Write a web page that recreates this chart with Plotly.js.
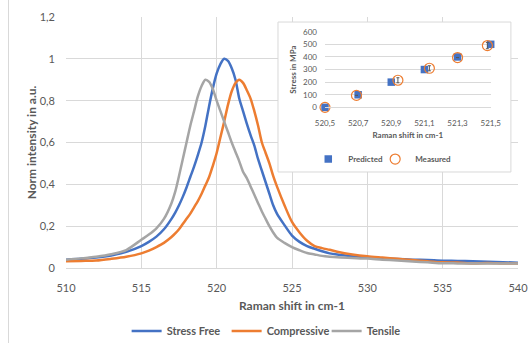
<!DOCTYPE html>
<html>
<head>
<meta charset="utf-8">
<script src="https://cdn.plot.ly/plotly-3.0.1.min.js"></script>
<style>
  html, body { margin: 0; padding: 0; background: #fff; }
  #wrap { position: relative; width: 530px; height: 343px; }
  #chart { width: 530px; height: 343px; }
  #border { position: absolute; left: 8px; top: 0; width: 0; height: 343px; border-left: 1px solid #D9D9D9; pointer-events: none; }
</style>
</head>
<body>
<div id="wrap"><div id="chart"></div><div id="border"></div></div>
<script>
// ---- Main chart data (Raman spectra) ----
const ramanShift = [510,511,512,513,514,515,515.5,516,516.5,517,517.25,517.5,517.75,518,518.25,518.5,518.75,519,519.25,519.5,519.75,520,520.25,520.5,520.75,521,521.25,521.5,521.75,522,522.25,522.5,522.75,523,523.25,523.5,523.75,524,524.5,525,525.5,526,526.5,527,527.5,528,529,530,531,532,533,534,535,536,537,538,539,540];

const stressFree = [0.040,0.044,0.050,0.060,0.077,0.105,0.125,0.150,0.185,0.235,0.265,0.300,0.340,0.385,0.435,0.485,0.540,0.600,0.680,0.775,0.860,0.930,0.975,1.000,0.990,0.955,0.900,0.810,0.750,0.690,0.635,0.585,0.520,0.465,0.410,0.355,0.300,0.260,0.205,0.155,0.125,0.105,0.092,0.080,0.070,0.064,0.056,0.050,0.046,0.043,0.040,0.038,0.035,0.034,0.032,0.030,0.028,0.025];

const compressive = [0.032,0.034,0.036,0.044,0.054,0.070,0.083,0.100,0.120,0.148,0.165,0.185,0.210,0.235,0.260,0.290,0.320,0.355,0.395,0.435,0.490,0.550,0.625,0.700,0.780,0.845,0.885,0.900,0.885,0.850,0.810,0.750,0.680,0.600,0.550,0.500,0.440,0.390,0.300,0.220,0.170,0.130,0.105,0.095,0.087,0.078,0.065,0.056,0.050,0.044,0.038,0.032,0.027,0.026,0.022,0.024,0.022,0.022];

const tensile = [0.040,0.046,0.054,0.066,0.086,0.135,0.160,0.190,0.235,0.310,0.365,0.440,0.520,0.600,0.680,0.750,0.820,0.870,0.900,0.890,0.855,0.800,0.750,0.700,0.650,0.600,0.555,0.510,0.460,0.430,0.390,0.350,0.310,0.270,0.235,0.200,0.170,0.145,0.120,0.100,0.085,0.072,0.065,0.058,0.054,0.051,0.048,0.045,0.040,0.036,0.031,0.027,0.023,0.022,0.021,0.022,0.022,0.022];

const seriesNames = ["Stress Free", "Compressive", "Tensile"];

// ---- Inset data (stress vs Raman shift) ----
const predShift = [520.5, 520.7, 520.9, 521.1, 521.3, 521.5];
const predStress = [0, 100, 200, 300, 400, 500];
const measShift = [520.5, 520.69, 520.94, 521.13, 521.3, 521.48];
const measStress = [0, 95, 215, 310, 395, 490];
const measErr = [0, 0, 20, 20, 0, 25];

const FONT = "Lato, 'Open Sans', sans-serif";
const GREY_TXT = "#595959";
const GRID = "#D9D9D9";

const traces = [
  {x: ramanShift, y: stressFree, name: seriesNames[0], type: "scatter", mode: "lines",
   line: {color: "#4472C4", width: 2.5, shape: "spline", smoothing: 0.8}, legend: "legend"},
  {x: ramanShift, y: compressive, name: seriesNames[1], type: "scatter", mode: "lines",
   line: {color: "#ED7D31", width: 2.5, shape: "spline", smoothing: 0.8}, legend: "legend"},
  {x: ramanShift, y: tensile, name: seriesNames[2], type: "scatter", mode: "lines",
   line: {color: "#A5A5A5", width: 2.5, shape: "spline", smoothing: 0.8}, legend: "legend"},
  {x: predShift, y: predStress, name: "Predicted", type: "scatter", mode: "markers",
   xaxis: "x2", yaxis: "y2", legend: "legend2", cliponaxis: false,
   marker: {symbol: "square", size: 7.5, color: "#4472C4"}},
  {x: measShift, y: measStress, name: "Measured", type: "scatter", mode: "markers",
   xaxis: "x2", yaxis: "y2", legend: "legend3", cliponaxis: false,
   marker: {symbol: "circle-open", size: 10, color: "#ED7D31", line: {width: 1.2}},
   error_y: {type: "data", array: measErr, visible: true, color: "#595959", thickness: 1, width: 1.5}}
];

const insetLegendBase = {
  orientation: "h", xanchor: "left", y: 0.434, yanchor: "middle",
  font: {size: 8, color: GREY_TXT, weight: "bold"}, itemwidth: 30,
  bgcolor: "rgba(0,0,0,0)"
};

const layout = {
  width: 530, height: 343,
  margin: {l: 66, r: 12, t: 17, b: 75, autoexpand: false},
  paper_bgcolor: "#fff", plot_bgcolor: "#fff",
  separators: ",.",
  font: {family: FONT, color: GREY_TXT, size: 11},
  showlegend: true,
  xaxis: {
    range: [510, 540], dtick: 5, tick0: 510,
    showgrid: true, gridcolor: GRID, gridwidth: 1,
    zeroline: false, showline: true, linecolor: GRID, linewidth: 1,
    ticks: "", ticklabelstandoff: 10,
    tickfont: {size: 11, color: GREY_TXT},
    title: {text: "Raman shift in cm-1", font: {size: 12, color: GREY_TXT, weight: "bold"}, standoff: 8},
    fixedrange: true
  },
  yaxis: {
    range: [0, 1.2], dtick: 0.2, tick0: 0,
    showgrid: true, gridcolor: GRID, gridwidth: 1,
    zeroline: false, showline: false,
    ticks: "", ticklabelstandoff: 10,
    tickfont: {size: 11, color: GREY_TXT},
    title: {text: "Norm intensity in a.u.", font: {size: 12, color: GREY_TXT, weight: "bold"}, standoff: 0},
    fixedrange: true
  },
  xaxis2: {
    domain: [0.573, 0.9396], anchor: "y2",
    range: [520.5, 521.5], dtick: 0.2, tick0: 520.5,
    showgrid: false, zeroline: false, showline: true, linecolor: GRID, linewidth: 1,
    ticks: "", ticklabelstandoff: 8,
    tickfont: {size: 8, color: GREY_TXT},
    title: {text: "Raman shift in cm-1", font: {size: 8, color: GREY_TXT, weight: "bold"}, standoff: 5},
    fixedrange: true
  },
  yaxis2: {
    domain: [0.640, 0.9414], anchor: "x2",
    range: [0, 600], dtick: 100, tick0: 0,
    showgrid: true, gridcolor: GRID, gridwidth: 1,
    zeroline: false, showline: false,
    ticks: "", ticklabelstandoff: 7,
    tickfont: {size: 8, color: GREY_TXT},
    title: {text: "Stress in MPa", font: {size: 8, color: GREY_TXT, weight: "bold"}, standoff: 5},
    fixedrange: true
  },
  legend: {
    orientation: "h", x: 0.466, xanchor: "center", y: -0.251, yanchor: "middle",
    font: {size: 11, color: GREY_TXT, weight: "bold"}, itemwidth: 30,
    entrywidthmode: "pixels", entrywidth: 55,
    bgcolor: "rgba(0,0,0,0)", tracegroupgap: 0
  },
  legend2: Object.assign({}, insetLegendBase, {x: 0.536}),
  legend3: Object.assign({}, insetLegendBase, {x: 0.684}),
  shapes: [
    {type: "rect", xref: "x", yref: "y",
     x0: 524.07, x1: 539.53, y0: 0.459, y1: 1.176,
     fillcolor: "#ffffff", line: {color: GRID, width: 1}, layer: "between"}
  ]
};

Plotly.newPlot("chart", traces, layout, {staticPlot: true, displayModeBar: false});
</script>
</body>
</html>
